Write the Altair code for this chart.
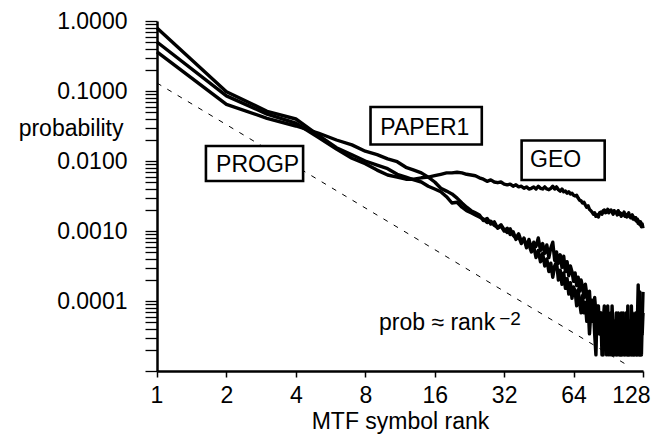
import altair as alt
import pandas as pd

# ---------------- data ----------------
ranks = list(range(1, 129))

# log10(probability) for each MTF rank 1..128
log10_prob_progp = [
    -0.10, -1.01, -1.29, -1.40, -1.63, -1.81, -1.91, -2.00,
    -2.06, -2.11, -2.19, -2.23, -2.27, -2.30, -2.36, -2.40,
    -2.44, -2.51, -2.60, -2.59, -2.66, -2.71, -2.74, -2.77,
    -2.80, -2.83, -2.88, -2.86, -2.92, -2.95, -2.91, -2.98,
    -3.02, -2.97, -3.06, -3.10, -3.04, -3.15, -3.12, -3.20,
    -3.20, -3.30, -3.22, -3.38, -3.28, -3.44, -3.32, -3.50,
    -3.40, -3.58, -3.46, -3.66, -3.50, -3.44, -3.70, -3.56,
    -3.76, -3.60, -3.82, -3.68, -3.90, -3.74, -3.96, -3.80,
    -3.86, -4.07, -3.84, -4.02, -4.17, -3.92, -4.17, -4.02,
    -4.29, -4.07, -4.47, -4.17, -4.29, -4.07, -4.47, -4.77,
    -4.07, -4.29, -4.47, -4.17, -4.77, -4.29, -4.07, -4.47,
    -4.77, -4.17, -4.47, -4.29, -4.77, -4.07, -4.47, -4.77,
    -4.29, -4.77, -4.47, -4.17, -4.77, -4.29, -4.77, -4.47,
    -4.17, -4.77, -4.47, -4.29, -4.77, -4.07, -4.77, -4.47,
    -4.29, -4.77, -4.17, -4.47, -4.77, -4.29, -4.47, -4.77,
    -4.17, -4.77, -4.47, -3.87, -4.77, -4.29, -4.47, -4.17,
]

log10_prob_paper1 = [
    -0.44, -1.19, -1.39, -1.50, -1.60, -1.70, -1.77, -1.86,
    -1.91, -1.97, -2.01, -2.09, -2.13, -2.17, -2.23, -2.30,
    -2.39, -2.43, -2.47, -2.53, -2.60, -2.66, -2.71, -2.74,
    -2.77, -2.85, -2.82, -2.90, -2.87, -2.96, -2.93, -3.00,
    -2.96, -3.05, -3.01, -3.12, -3.08, -3.18, -3.10, -3.24,
    -3.12, -3.26, -3.16, -3.22, -3.10, -3.28, -3.18, -3.32,
    -3.20, -3.38, -3.24, -3.16, -3.42, -3.30, -3.46, -3.34,
    -3.52, -3.36, -3.58, -3.44, -3.64, -3.50, -3.58, -3.72,
    -3.60, -3.78, -3.66, -3.86, -3.70, -3.80, -3.95, -3.76,
    -3.90, -4.07, -3.86, -4.17, -3.99, -4.29, -3.95, -4.17,
    -4.29, -4.07, -4.47, -4.17, -4.29, -4.77, -4.17, -4.29,
    -4.47, -4.07, -4.77, -4.29, -4.17, -4.47, -4.77, -4.29,
    -4.47, -4.17, -4.77, -4.47, -4.29, -4.77, -4.17, -4.77,
    -4.47, -4.29, -4.77, -4.17, -4.47, -4.77, -4.29, -4.77,
    -4.47, -4.07, -4.77, -4.29, -4.77, -4.47, -4.17, -4.77,
    -4.29, -3.77, -4.47, -4.77, -4.07, -4.77, -4.29, -3.87,
]

log10_prob_geo = [
    -0.30, -1.07, -1.33, -1.46, -1.66, -1.83, -1.96, -2.04,
    -2.13, -2.20, -2.23, -2.26, -2.26, -2.24, -2.23, -2.21,
    -2.19, -2.17, -2.17, -2.16, -2.17, -2.19, -2.20, -2.21,
    -2.24, -2.26, -2.29, -2.27, -2.30, -2.31, -2.30, -2.33,
    -2.34, -2.33, -2.36, -2.34, -2.37, -2.36, -2.39, -2.37,
    -2.40, -2.39, -2.37, -2.40, -2.36, -2.39, -2.40, -2.37,
    -2.40, -2.41, -2.39, -2.36, -2.40, -2.37, -2.41, -2.43,
    -2.40, -2.44, -2.43, -2.46, -2.44, -2.47, -2.46, -2.49,
    -2.50, -2.49, -2.53, -2.56, -2.57, -2.60, -2.59, -2.63,
    -2.66, -2.64, -2.69, -2.71, -2.73, -2.76, -2.74, -2.79,
    -2.77, -2.80, -2.74, -2.73, -2.76, -2.71, -2.70, -2.74,
    -2.73, -2.69, -2.74, -2.71, -2.70, -2.73, -2.76, -2.71,
    -2.74, -2.73, -2.77, -2.71, -2.76, -2.74, -2.79, -2.76,
    -2.77, -2.73, -2.79, -2.76, -2.80, -2.77, -2.74, -2.79,
    -2.81, -2.79, -2.77, -2.83, -2.80, -2.84, -2.81, -2.86,
    -2.83, -2.89, -2.86, -2.91, -2.87, -2.94, -2.90, -2.96,
]

# reference line prob ~ rank^-2 (end points)
ref_rank = [1, 110]
ref_prob = [0.13, 1.2e-5]

# annotation boxes (in data units) and their labels
box_label = ["PROGP", "PAPER1", "GEO"]
box_rank_lo = [1.63, 8.43, 38.1]
box_rank_hi = [4.30, 25.6, 87.3]
box_prob_hi = [0.0164, 0.0591, 0.0196]
box_prob_lo = [0.00518, 0.0172, 0.00535]
box_text_rank = [2.73, 14.5, 53.5]
box_text_prob = [0.00877, 0.0301, 0.0103]

formula_text = ["prob \u2248 rank"]
formula_rank = [29.25]
formula_prob = [3.85e-5]
exponent_text = ["\u22122"]
exponent_rank = [30.45]
exponent_prob = [4.54e-5]

x_tick_values = [1, 2, 4, 8, 16, 32, 64, 128]
y_decades = [1e-5, 1e-4, 1e-3, 1e-2, 1e-1]
y_mantissas = [1, 2, 3, 4, 5, 6, 7, 8, 9]
y_tick_values = [m * d for d in y_decades for m in y_mantissas] + [1.0]
y_label_min = 1e-4   # smallest decade that carries a label

# ---------------- tables ----------------
rows = []
for name, vals in [("PROGP", log10_prob_progp), ("PAPER1", log10_prob_paper1), ("GEO", log10_prob_geo)]:
    for r, v in zip(ranks, vals):
        rows.append({"series": name, "rank": r, "prob": 10 ** v})
lines_df = pd.DataFrame(rows)
ref_df = pd.DataFrame({"rank": ref_rank, "prob": ref_prob})
box_df = pd.DataFrame({
    "label": box_label, "r1": box_rank_lo, "r2": box_rank_hi,
    "p1": box_prob_lo, "p2": box_prob_hi,
    "tr": box_text_rank, "tp": box_text_prob,
})
formula_df = pd.DataFrame({"t": formula_text, "rank": formula_rank, "prob": formula_prob})
exponent_df = pd.DataFrame({"t": exponent_text, "rank": exponent_rank, "prob": exponent_prob})

FONT = "Liberation Sans"
FS = 23
PLOT_W, PLOT_H = 486, 350

label_expr = (
    "abs(log(datum.value)/LN10 - round(log(datum.value)/LN10)) < 0.001 && datum.value >= "
    + repr(y_label_min * 0.999)
    + " ? format(datum.value, '.4f') : ''"
)

x_scale = alt.Scale(type="log", base=2, domain=[1, 128], nice=False)
y_scale = alt.Scale(type="log", base=10, domain=[1e-5, 1], nice=False)

x_axis = alt.Axis(values=x_tick_values, format="d", ticks=True, tickSize=6, tickWidth=1.5,
                  tickColor="black",
                  labelPadding=7, labelFlush=True, labelFlushOffset=7,
                  title="MTF symbol rank", titleY=57, titleBaseline="alphabetic")
y_axis = alt.Axis(values=y_tick_values, labelExpr=label_expr, ticks=True, tickSize=12,
                  tickWidth=1.3, tickColor="black",
                  labelPadding=18, labelOverlap=False,
                  title="probability", titleAngle=0, titleAlign="right",
                  titleBaseline="alphabetic", titleX=-34, titleY=114)

lines = alt.Chart(lines_df).mark_line(color="black", strokeWidth=3.4, strokeJoin="round").encode(
    x=alt.X("rank:Q", scale=x_scale, axis=x_axis),
    y=alt.Y("prob:Q", scale=y_scale, axis=y_axis),
    detail="series:N",
)

ref_line = alt.Chart(ref_df).mark_line(color="black", strokeWidth=1, strokeDash=[5, 7]).encode(
    x=alt.X("rank:Q", scale=x_scale, axis=x_axis),
    y=alt.Y("prob:Q", scale=y_scale, axis=y_axis),
)

boxes = alt.Chart(box_df).mark_rect(fill="white", stroke="black", strokeWidth=2.6).encode(
    x=alt.X("r1:Q", scale=x_scale), x2="r2:Q",
    y=alt.Y("p1:Q", scale=y_scale), y2="p2:Q",
)

box_text = alt.Chart(box_df).mark_text(font=FONT, fontSize=FS, color="black",
                                       align="center", baseline="middle").encode(
    x=alt.X("tr:Q", scale=x_scale), y=alt.Y("tp:Q", scale=y_scale), text="label:N",
)

formula = alt.Chart(formula_df).mark_text(font=FONT, fontSize=FS, color="black",
                                          align="right", baseline="alphabetic").encode(
    x=alt.X("rank:Q", scale=x_scale), y=alt.Y("prob:Q", scale=y_scale), text="t:N",
)

exponent = alt.Chart(exponent_df).mark_text(font=FONT, fontSize=19, color="black",
                                            align="left", baseline="alphabetic").encode(
    x=alt.X("rank:Q", scale=x_scale), y=alt.Y("prob:Q", scale=y_scale), text="t:N",
)

chart = alt.layer(ref_line, lines, boxes, box_text, formula, exponent).properties(
    width=PLOT_W, height=PLOT_H,
    padding={"left": 157, "top": 21, "right": 8, "bottom": 63},
    autosize=alt.AutoSizeParams(type="none"),
).configure_view(stroke=None).configure_axis(
    labelFont=FONT, titleFont=FONT, labelFontSize=FS, titleFontSize=FS,
    titleFontWeight="normal", labelColor="black", titleColor="black",
    domainColor="black", domainWidth=2.5, grid=False,
)

chart.save("out.html", embed_options={"renderer": "svg", "actions": False})
